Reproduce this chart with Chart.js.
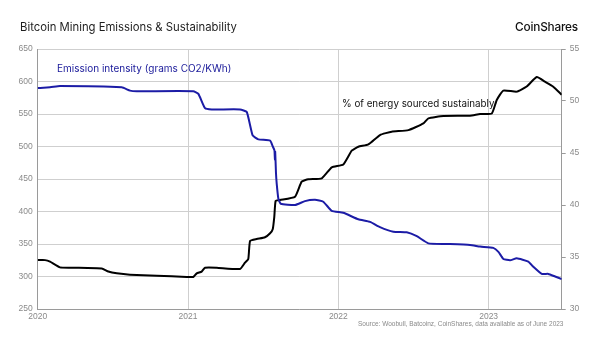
<!DOCTYPE html>
<html lang="en">
<head>
  <meta charset="UTF-8">
  <title>Bitcoin Mining Emissions & Sustainability</title>
  <script src="https://cdn.jsdelivr.net/npm/chart.js"></script>
  <style>
    html, body {
      margin: 0;
      padding: 0;
      background: #ffffff;
      font-family: "Inter", "Noto Sans", sans-serif;
    }

    .wrap {
      position: relative;
      width: 600px;
      height: 352px;
      overflow: hidden;
    }

    canvas {
      position: absolute;
      left: 0;
      top: 0;
    }

    .label {
      position: absolute;
      white-space: nowrap;
    }

    #title { left: 20px; top: 20px; font-size: 11.3px; color: #1e1e1e; }
    #brand { right: 22px; top: 20px; font-size: 11.8px; font-weight: 500; color: #111; letter-spacing: -0.2px; }
    #emLabel { left: 57px; top: 62px; font-size: 10px; color: #1a1a9a; }
    #susLabel { left: 342px; top: 98px; font-size: 9.8px; color: #111; }
    #source { left: 358px; top: 320px; font-size: 6.5px; color: #8a8a8a; font-family: "Liberation Sans", sans-serif; }
  </style>
</head>
<body>
  <div class="wrap">
    <canvas id="chart" width="600" height="352"></canvas>
    <div class="label" id="title">Bitcoin Mining Emissions &amp; Sustainability</div>
    <div class="label" id="brand">CoinShares</div>
    <div class="label" id="emLabel">Emission intensity (grams CO2/KWh)</div>
    <div class="label" id="susLabel">% of energy sourced sustainably</div>
    <div class="label" id="source">Source: Woobull, Batcoinz, CoinShares, data available as of June 2023</div>
  </div>

  <script>
    // emission intensity (g CO2/KWh), left axis
    const emissionYears = [
      2020.000, 2020.082, 2020.148, 2020.559, 2020.614, 2020.659, 2021.035, 2021.069,
      2021.113, 2021.158, 2021.346, 2021.391, 2021.430, 2021.468, 2021.546, 2021.564,
      2021.575, 2021.578, 2021.580, 2021.585, 2021.590, 2021.601, 2021.617, 2021.712,
      2021.778, 2021.845, 2021.900, 2021.956, 2022.033, 2022.133, 2022.211, 2022.277,
      2022.366, 2022.455, 2022.522, 2022.599, 2022.721, 2022.876, 2022.943, 2023.031,
      2023.065, 2023.098, 2023.143, 2023.187, 2023.264, 2023.297, 2023.353, 2023.397,
      2023.442, 2023.486
    ];
    const emissionValues = [
      590, 591, 593, 591, 586, 585, 585, 581,
      559, 557, 557, 553, 517, 511, 509, 500,
      494, 480, 492, 460, 443, 420, 412, 410,
      416, 418, 415, 401, 398, 388, 384, 376,
      369, 368, 362, 351, 350, 348.5, 346, 344,
      338, 327, 325, 328, 323, 315, 304, 304,
      300, 296
    ];

    // share of energy sourced sustainably (%), right axis
    const sustainYears = [
      2020.000, 2020.049, 2020.082, 2020.148, 2020.237, 2020.426, 2020.470, 2020.526,
      2020.614, 2020.792, 2020.991, 2021.035, 2021.058, 2021.091, 2021.113, 2021.191,
      2021.346, 2021.379, 2021.401, 2021.413, 2021.457, 2021.512, 2021.546, 2021.564,
      2021.574, 2021.583, 2021.612, 2021.712, 2021.756, 2021.800, 2021.890, 2021.956,
      2022.033, 2022.089, 2022.133, 2022.200, 2022.277, 2022.355, 2022.466, 2022.566,
      2022.599, 2022.699, 2022.876, 2022.943, 2023.021, 2023.054, 2023.098, 2023.187,
      2023.253, 2023.320, 2023.374, 2023.428, 2023.486
    ];
    const sustainValues = [
      34.7, 34.7, 34.55, 34.0, 33.97, 33.9, 33.6, 33.43,
      33.3, 33.2, 33.08, 33.08, 33.43, 33.6, 33.97, 33.97,
      33.85, 34.45, 34.8, 36.54, 36.73, 36.9, 37.28, 37.7,
      38.87, 40.4, 40.48, 40.8, 42.24, 42.47, 42.57, 43.62,
      43.9, 45.22, 45.6, 45.83, 46.73, 47.05, 47.2, 47.85,
      48.33, 48.56, 48.59, 48.75, 48.8, 50.1, 51.0, 50.9,
      51.4, 52.3, 51.86, 51.4, 50.6
    ];

    const yearTicks = [2020, 2021, 2022, 2023];

    const toPoints = (xs, ys) => xs.map((x, i) => ({ x: x, y: ys[i] }));

    const tickFont = { family: "Liberation Sans", size: 8.5 };
    const gridColor = "#cfcfcf";
    const axisColor = "#9a9a9a";

    new Chart(document.getElementById("chart"), {
      type: "line",
      data: {
        datasets: [
          {
            label: "Emission intensity (grams CO2/KWh)",
            data: toPoints(emissionYears, emissionValues),
            borderColor: "#1c1ca6",
            borderWidth: 2,
            pointRadius: 0,
            tension: 0.15,
            yAxisID: "y"
          },
          {
            label: "% of energy sourced sustainably",
            data: toPoints(sustainYears, sustainValues),
            borderColor: "#000000",
            borderWidth: 2,
            pointRadius: 0,
            tension: 0.15,
            yAxisID: "y1"
          }
        ]
      },
      options: {
        responsive: false,
        animation: false,
        layout: { padding: { top: 49, left: 0, right: 0, bottom: 0 } },
        plugins: {
          legend: { display: false },
          tooltip: { enabled: false }
        },
        scales: {
          x: {
            type: "linear",
            min: 2020,
            max: 2023.486,
            afterFit: (s) => { s.height = 43; },
            afterBuildTicks: (s) => { s.ticks = yearTicks.map(v => ({ value: v })); },
            ticks: {
              includeBounds: false,
              color: "#8a8a8a",
              font: tickFont,
              padding: 3,
              maxRotation: 0,
              callback: (v) => String(v)
            },
            grid: { color: gridColor, drawTicks: false },
            border: { color: axisColor }
          },
          y: {
            position: "left",
            min: 250,
            max: 650,
            afterFit: (s) => { s.width = 37.7; },
            ticks: { stepSize: 50, color: "#8a8a8a", font: tickFont, padding: 5 },
            grid: { color: gridColor, drawTicks: false },
            border: { color: axisColor }
          },
          y1: {
            position: "right",
            min: 30,
            max: 55,
            afterFit: (s) => { s.width = 38.3; },
            ticks: { stepSize: 5, color: "#8a8a8a", font: tickFont, padding: 4 },
            grid: { drawOnChartArea: false, color: axisColor, tickLength: 4 },
            border: { color: axisColor }
          }
        }
      }
    });
  </script>
</body>
</html>
